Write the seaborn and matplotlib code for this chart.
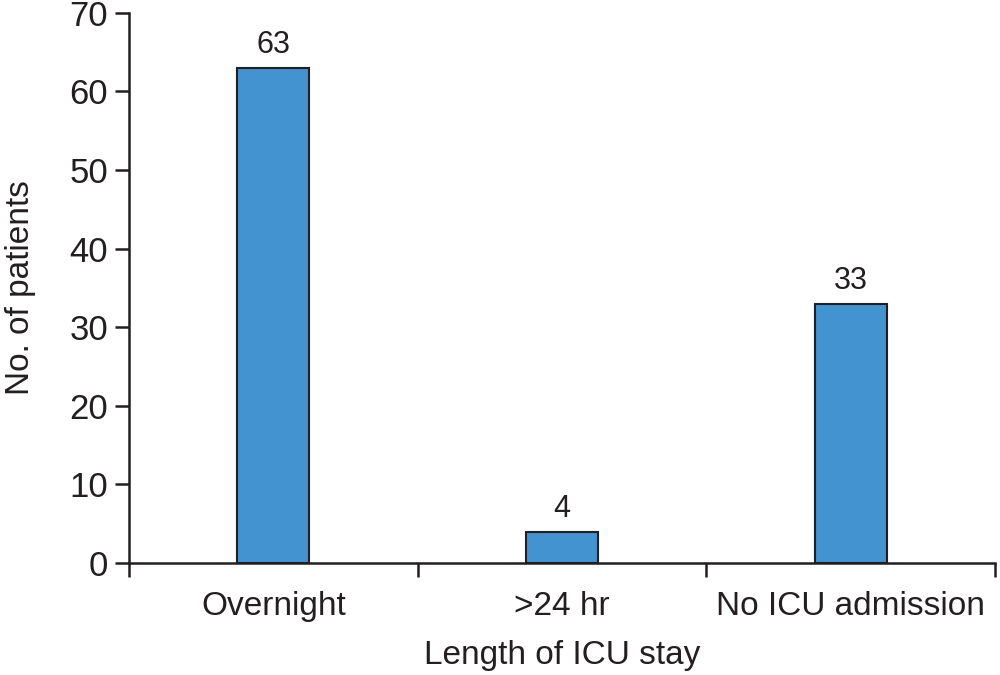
import numpy as np
import pandas as pd
import matplotlib
matplotlib.use("Agg")
import matplotlib.pyplot as plt
import seaborn as sns

# data
stay = ["Overnight", ">24 hr", "No ICU admission"]
patients = [63, 4, 33]
yticks = [0, 10, 20, 30, 40, 50, 60, 70]

df = pd.DataFrame({"stay": stay, "patients": patients})

sns.set_style("ticks")
plt.rcParams["font.family"] = ["Liberation Sans", "DejaVu Sans"]

fig = plt.figure(figsize=(10, 6.75), dpi=100)
ax = fig.add_axes([0.129, 0.166, 0.866, 0.815])

sns.barplot(data=df, x="stay", y="patients", width=0.25, color="#4393d0",
            saturation=1, edgecolor="#231f20", linewidth=1.5, ax=ax)

# value labels above bars
for i, v in enumerate(patients):
    ax.text(i, v + 1.0, str(v), ha="center", va="bottom", fontsize=22, color="#231f20")

ax.set_ylim(0, 70)
ax.set_xlim(-0.5, 2.5)
ax.set_yticks(yticks)
ax.set_xticks(range(len(stay)))
ax.set_xticklabels(stay)
# ticks between categories, like the original
ax.set_xticks([-0.5, 0.5, 1.5, 2.5], minor=True)
ax.tick_params(axis="x", which="major", length=0, pad=20, labelsize=24, colors="#231f20")
ax.tick_params(axis="x", which="minor", length=10, width=1.8, direction="out", color="#231f20")
ax.tick_params(axis="y", length=10, width=1.8, labelsize=25, pad=5, colors="#231f20")

for s in ["top", "right"]:
    ax.spines[s].set_visible(False)
for s in ["left", "bottom"]:
    ax.spines[s].set_linewidth(1.8)
    ax.spines[s].set_color("#231f20")

ax.set_xlabel("Length of ICU stay", fontsize=24, color="#231f20", labelpad=13)
ax.set_ylabel("No. of patients", fontsize=24, color="#231f20", labelpad=24)

fig.savefig("out.png", dpi=100)
